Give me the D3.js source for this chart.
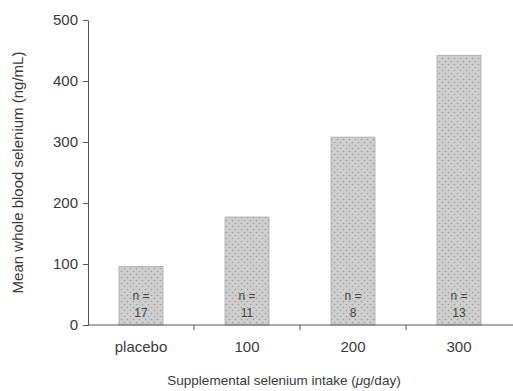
<!DOCTYPE html>
<html>
<head>
<meta charset="utf-8">
<script src="https://cdn.jsdelivr.net/npm/d3@7"></script>
<style>
  body { margin: 0; background: #fff; }
  svg { display: block; font-family: "Liberation Sans", Arial, sans-serif; }
  .axis text { fill: #3a3a3a; font-size: 15px; }
  .axis path, .axis line { stroke: #555; }
</style>
</head>
<body>
<div id="chart"></div>
<script>
const categories = ["placebo", "100", "200", "300"];
const meanSelenium = [96, 177, 308, 442];
const sampleSizes = [17, 11, 8, 13];
const yTicks = [0, 100, 200, 300, 400, 500];

const width = 513, height = 391;
const margin = {left: 88, top: 20, right: 1, bottom: 66};

var svg = d3.select("#chart").append("svg")
    .attr("width", width)
    .attr("height", height);

// dotted fill for the bars
var pattern = svg.append("defs").append("pattern")
    .attr("id", "dots")
    .attr("patternUnits", "userSpaceOnUse")
    .attr("width", 6)
    .attr("height", 6);
pattern.append("rect").attr("width", 6).attr("height", 6).attr("fill", "#cfcfcf");
pattern.append("circle").attr("cx", 1.5).attr("cy", 1.5).attr("r", 0.8).attr("fill", "#999");
pattern.append("circle").attr("cx", 4.5).attr("cy", 4.5).attr("r", 0.8).attr("fill", "#999");

var x = d3.scaleBand()
    .domain(categories)
    .range([margin.left, width - margin.right])
    .paddingInner(0.585)
    .paddingOuter(0.2925);

var xCat = d3.scaleBand()
    .domain(categories)
    .range([margin.left, width - margin.right]);

var y = d3.scaleLinear()
    .domain([0, 500])
    .range([height - margin.bottom, margin.top]);

svg.selectAll("rect.bar").data(categories)
    .enter().append("rect")
    .attr("class", "bar")
    .attr("x", d => x(d))
    .attr("y", (d, i) => y(meanSelenium[i]))
    .attr("width", x.bandwidth())
    .attr("height", (d, i) => y(0) - y(meanSelenium[i]))
    .attr("fill", "url(#dots)")
    .attr("stroke", "#aaa")
    .attr("stroke-width", 0.8);

var nLabels = svg.selectAll("text.n").data(categories)
    .enter().append("text")
    .attr("class", "n")
    .attr("text-anchor", "middle")
    .attr("font-size", 12)
    .attr("fill", "#444");
nLabels.append("tspan")
    .attr("x", d => x(d) + x.bandwidth() / 2)
    .attr("y", y(0) - 25)
    .text("n =");
nLabels.append("tspan")
    .attr("x", d => x(d) + x.bandwidth() / 2)
    .attr("y", y(0) - 8)
    .text((d, i) => sampleSizes[i]);

// y axis
svg.append("g")
    .attr("class", "axis")
    .attr("transform", `translate(${margin.left},0)`)
    .call(d3.axisLeft(y).tickValues(yTicks).tickSize(5).tickSizeOuter(0).tickPadding(5));

// x axis: labels centred in each category, ticks between categories
var xAxisG = svg.append("g")
    .attr("class", "axis")
    .attr("transform", `translate(0,${y(0)})`)
    .call(d3.axisBottom(xCat).tickSize(0).tickPadding(16));
xAxisG.select(".domain").attr("d", `M${margin.left},0H${width}`);

xAxisG.selectAll("line.sep").data(categories.slice(1))
    .enter().append("line")
    .attr("class", "sep")
    .attr("x1", d => xCat(d))
    .attr("x2", d => xCat(d))
    .attr("y1", 0)
    .attr("y2", 5);

svg.append("text")
    .attr("transform", `translate(23,${(margin.top + y(0)) / 2}) rotate(-90)`)
    .attr("text-anchor", "middle")
    .attr("font-size", 15)
    .attr("fill", "#3a3a3a")
    .text("Mean whole blood selenium (ng/mL)");

var xTitle = svg.append("text")
    .attr("x", 284)
    .attr("y", 385)
    .attr("text-anchor", "middle")
    .attr("font-size", 13.5)
    .attr("fill", "#3a3a3a");
xTitle.append("tspan").text("Supplemental selenium intake (");
xTitle.append("tspan").attr("font-style", "italic").text("μ");
xTitle.append("tspan").text("g/day)");
</script>
</body>
</html>
